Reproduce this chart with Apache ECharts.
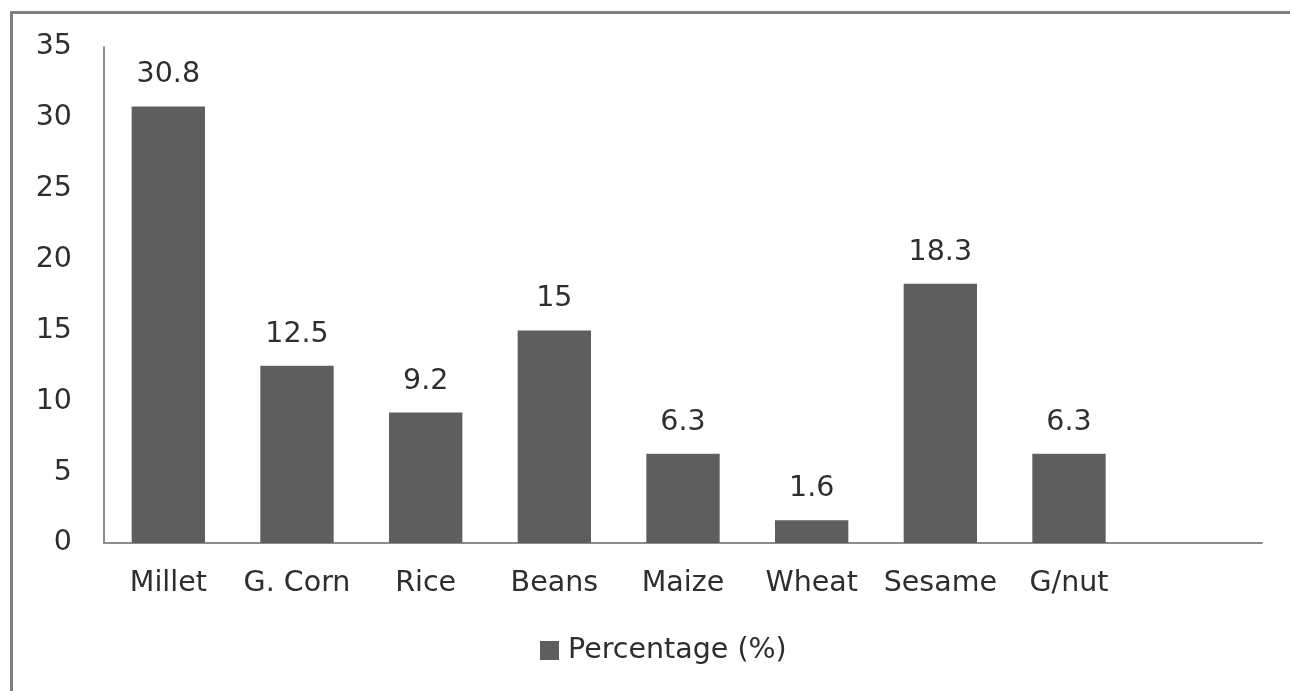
<!DOCTYPE html>
<html>
<head>
<meta charset="utf-8">
<script src="https://cdn.jsdelivr.net/npm/echarts@6/dist/echarts.min.js"></script>
<style>
  html, body { margin: 0; padding: 0; background: #fff; }
  #frame {
    position: absolute; left: 10px; top: 11px; width: 1280px; height: 680px;
    border-left: 3px solid #808080; border-top: 3px solid #808080; box-sizing: border-box;
  }
  #chart { position: absolute; left: 0; top: 0; width: 1290px; height: 691px; }
</style>
</head>
<body>
<div id="frame"></div>
<div id="chart"></div>
<script>
// Crop shares (%) by category; the last slot is left empty on the axis.
const categories = ['Millet', 'G. Corn', 'Rice', 'Beans', 'Maize', 'Wheat', 'Sesame', 'G/nut', ''];
const percentages = [30.8, 12.5, 9.2, 15, 6.3, 1.6, 18.3, 6.3, null];
const seriesName = 'Percentage (%)';

const FONT = 'DejaVu Sans';
const TEXT = '#2e2e2e';
const SIZE = 28.5;

const chart = echarts.init(document.getElementById('chart'), null, { renderer: 'canvas' });
chart.setOption({
  animation: false,
  backgroundColor: 'transparent',
  textStyle: { fontFamily: FONT },
  grid: { left: 104, right: 28, top: 47, bottom: 148, containLabel: false },
  legend: {
    data: [seriesName],
    bottom: 21,
    left: 535,
    icon: 'rect',
    itemWidth: 19,
    itemHeight: 19,
    itemGap: 8,
    textStyle: { fontFamily: FONT, fontSize: SIZE, color: TEXT, padding: [0, 0, 0, 4] }
  },
  xAxis: {
    type: 'category',
    data: categories,
    axisLine: { lineStyle: { color: '#8c8c8c', width: 2 } },
    axisTick: { show: false },
    axisLabel: { fontFamily: FONT, fontSize: SIZE, color: TEXT, margin: 26, interval: 0 }
  },
  yAxis: {
    type: 'value',
    min: 0, max: 35, interval: 5,
    axisLine: { show: true, lineStyle: { color: '#8c8c8c', width: 2 } },
    axisTick: { show: false },
    splitLine: { show: false },
    axisLabel: { fontFamily: FONT, fontSize: SIZE, color: TEXT, margin: 32 }
  },
  series: [{
    name: seriesName,
    type: 'bar',
    data: percentages,
    barWidth: '57%',
    itemStyle: { color: '#5e5e5e' },
    label: {
      show: true, position: 'top', distance: 17,
      fontFamily: FONT, fontSize: SIZE, color: TEXT
    }
  }]
});
</script>
</body>
</html>
